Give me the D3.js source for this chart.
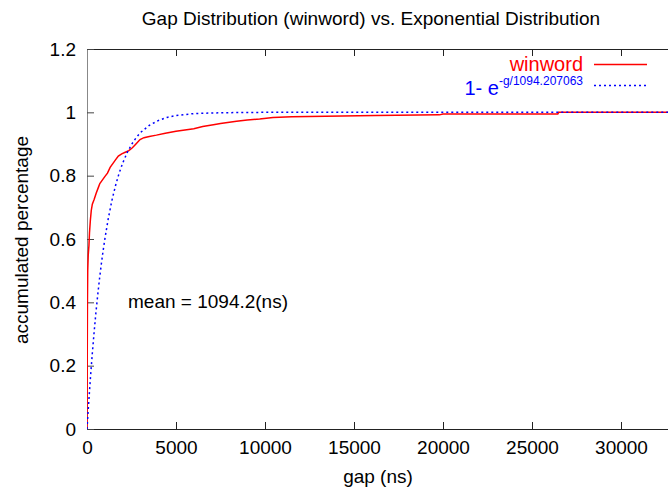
<!DOCTYPE html>
<html>
<head>
<meta charset="utf-8">
<script src="https://cdn.jsdelivr.net/npm/d3@7"></script>
<style>
  html, body { margin: 0; padding: 0; background: #fff; }
  svg { display: block; }
  text { font-family: "Liberation Sans", Arial, Helvetica, sans-serif; fill: #000; }
</style>
</head>
<body>
<svg id="chart" width="668" height="492"></svg>
<script>
// Gap values (ns) and accumulated percentage for the winword trace
const winwordGap = [0, 8, 15, 25, 40, 70, 110, 140, 190, 240, 300, 400, 520, 640, 720, 850, 1000, 1150, 1300, 1450, 1600, 1760, 1950, 2150, 2350, 2550, 2750, 2980, 3200, 3500, 3900, 4400, 5000, 5500, 6000, 6500, 7100, 7500, 8000, 8400, 9000, 9700, 10450, 11500, 13400, 16200, 19800, 20000, 26450, 26500, 33000];
const winwordPct = [0, 0.10, 0.25, 0.40, 0.50, 0.55, 0.58, 0.62, 0.66, 0.69, 0.71, 0.725, 0.745, 0.763, 0.775, 0.785, 0.797, 0.808, 0.826, 0.838, 0.85, 0.862, 0.869, 0.874, 0.879, 0.888, 0.90, 0.914, 0.92, 0.924, 0.928, 0.934, 0.94, 0.944, 0.948, 0.955, 0.961, 0.965, 0.969, 0.972, 0.976, 0.979, 0.984, 0.986, 0.988, 0.99, 0.992, 0.995, 0.995, 1.0, 1.0];

// Exponential reference curve, mean 1094.207063 ns
const expGap = [0, 100, 200, 300, 400, 500, 600, 700, 800, 900, 1000, 1200, 1400, 1600, 1800, 2000, 2250, 2500, 2750, 3000, 3500, 4000, 4500, 5000, 5500, 6000, 7000, 8000, 10000, 33000];
const expPct = [0, 0.087, 0.167, 0.240, 0.306, 0.367, 0.422, 0.473, 0.519, 0.561, 0.599, 0.666, 0.722, 0.768, 0.807, 0.839, 0.872, 0.898, 0.919, 0.936, 0.959, 0.974, 0.984, 0.990, 0.993, 0.996, 0.998, 0.999, 1.0, 1.0];

const xTicks = [0, 5000, 10000, 15000, 20000, 25000, 30000];
const yTicks = [0, 0.2, 0.4, 0.6, 0.8, 1.0, 1.2];
const yTickLabels = ["0", "0.2", "0.4", "0.6", "0.8", "1", "1.2"];

const svg = d3.select("#chart");
const plotLeft = 87, plotTop = 49, plotBottom = 429;
const xMax = 33000;
const x = d3.scaleLinear().domain([0, xMax]).range([plotLeft, plotLeft + xMax / 5000 * 89]);
const y = d3.scaleLinear().domain([0, 1.2]).range([plotBottom, plotTop]);
const plotRight = x(xMax);

svg.append("defs").append("clipPath").attr("id", "plot")
  .append("rect").attr("x", plotLeft).attr("y", plotTop)
  .attr("width", plotRight - plotLeft).attr("height", plotBottom - plotTop);

// Axes with inward ticks, mirrored on top
const fontSize = "19px";
const xAxis = svg.append("g").attr("transform", `translate(0,${plotBottom})`)
  .call(d3.axisBottom(x).tickValues(xTicks).tickFormat(d3.format("d")).tickSizeInner(-7).tickSizeOuter(0).tickPadding(12));
const xTop = svg.append("g").attr("transform", `translate(0,${plotTop})`)
  .call(d3.axisTop(x).tickValues(xTicks).tickFormat("").tickSizeInner(-7).tickSizeOuter(0));
const yAxis = svg.append("g").attr("transform", `translate(${plotLeft},0)`)
  .call(d3.axisLeft(y).tickValues(yTicks).tickFormat((d, i) => yTickLabels[i]).tickSizeInner(-7).tickSizeOuter(0).tickPadding(11));

[xAxis, xTop, yAxis].forEach(g => {
  g.attr("font-family", null).attr("font-size", null);
  g.selectAll("text").style("font-size", fontSize);
  g.selectAll(".tick line").attr("stroke", "#222");
  g.select(".domain").attr("stroke", "#222");
});
yAxis.select(".domain").attr("stroke", "#888");
yAxis.selectAll(".tick line").attr("stroke", "#444");

// Curves
const line = d3.line().x(d => x(d[0])).y(d => y(d[1]));
const plot = svg.append("g").attr("clip-path", "url(#plot)");
plot.append("path")
  .datum(winwordGap.map((g, i) => [g, winwordPct[i]]))
  .attr("d", line).attr("fill", "none").attr("stroke", "#ff0000").attr("stroke-width", 1.5);
plot.append("path")
  .datum(expGap.map((g, i) => [g, expPct[i]]))
  .attr("d", line).attr("fill", "none").attr("stroke", "#0000ff").attr("stroke-width", 1.5)
  .attr("stroke-dasharray", "2,3");

// Title and axis labels
svg.append("text").attr("x", 371).attr("y", 25).attr("text-anchor", "middle").style("font-size", "19px")
  .text("Gap Distribution (winword) vs. Exponential Distribution");
svg.append("text").attr("x", 378).attr("y", 483).attr("text-anchor", "middle").style("font-size", fontSize)
  .text("gap (ns)");
svg.append("text").attr("transform", "translate(28,240) rotate(-90)").attr("text-anchor", "middle").style("font-size", fontSize)
  .text("accumulated percentage");
svg.append("text").attr("x", 128).attr("y", 308).style("font-size", fontSize)
  .text("mean = 1094.2(ns)");

// Legend
const legend = svg.append("g");
legend.append("text").attr("x", 583).attr("y", 71).attr("text-anchor", "end").style("font-size", "20px")
  .style("fill", "#ff0000").text("winword");
legend.append("line").attr("x1", 594).attr("x2", 647).attr("y1", 64.5).attr("y2", 64.5)
  .attr("stroke", "#ff0000").attr("stroke-width", 1.5);
const expLabel = legend.append("text").attr("x", 583).attr("y", 95).attr("text-anchor", "end")
  .style("font-size", "20px").style("fill", "#0000ff");
expLabel.append("tspan").text("1- e");
expLabel.append("tspan").attr("dy", -10).style("font-size", "12px").text("-g/1094.207063");
legend.append("line").attr("x1", 594).attr("x2", 647).attr("y1", 85.5).attr("y2", 85.5)
  .attr("stroke", "#0000ff").attr("stroke-width", 1.5).attr("stroke-dasharray", "2,3");
</script>
</body>
</html>
